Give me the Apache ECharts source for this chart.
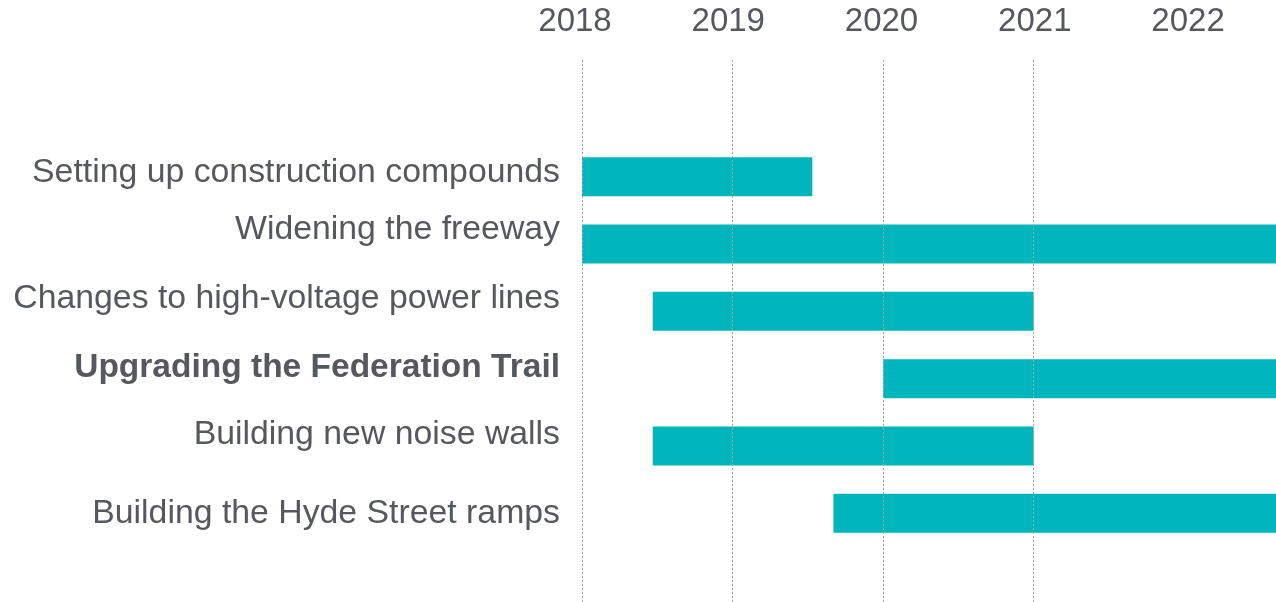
<!DOCTYPE html>
<html>
<head>
<meta charset="utf-8">
<script src="https://cdn.jsdelivr.net/npm/echarts@6/dist/echarts.min.js"></script>
<style>
    html, body { margin: 0; padding: 0; background: #ffffff; }
    #chart { width: 1276px; height: 602px; }
</style>
</head>
<body>
<div id="chart"></div>
<script>
// 任务名称
const tasks = [
    'Setting up construction compounds',
    'Widening the freeway',
    'Changes to high-voltage power lines',
    'Upgrading the Federation Trail',
    'Building new noise walls',
    'Building the Hyde Street ramps'
];
// 开始 / 结束年份（小数年）
const starts = [2018.0, 2018.0, 2018.47, 2020.0, 2018.47, 2019.67];
const ends = [2019.53, 2022.61, 2021.0, 2022.61, 2021.0, 2022.61];
const highlighted = 'Upgrading the Federation Trail';
// 竖向虚线所在年份
const gridYears = [2018, 2019, 2020, 2021];

const xMin = 2018;
const xMax = 2022.61;
const textColor = '#55585d';
const barColor = '#00b6bc';
const fontFamily = "'Liberation Sans', Arial, sans-serif";
// 标签相对柱子的上下偏移（原图标签没有和柱子对齐）
const labelShift = [-4, -14, -13, -11, -11, 0];

const chart = echarts.init(document.getElementById('chart'));

const option = {
    animation: false,
    grid: [
        { left: 582, right: 0, top: 143, bottom: 55 },   // 柱子
        { left: 582, right: 0, top: 58, bottom: 0 },     // 虚线
        { left: 575, right: 0, top: 58, bottom: 0 }      // 年份标签
    ],
    xAxis: [
        { gridIndex: 0, type: 'value', min: xMin, max: xMax, interval: 1, show: false },
        { gridIndex: 1, type: 'value', min: xMin, max: xMax, interval: 1, show: false },
        {
            gridIndex: 2, type: 'value', position: 'top', min: xMin, max: 2022.574, interval: 1,
            axisLine: { show: false },
            axisTick: { show: false },
            splitLine: { show: false },
            axisLabel: {
                show: true,
                showMaxLabel: false,
                margin: 20,
                fontSize: 33,
                color: textColor,
                fontFamily: fontFamily,
                formatter: (v) => String(Math.round(v))
            }
        }
    ],
    yAxis: [
        {
            gridIndex: 0, type: 'category', data: tasks, inverse: true,
            axisLine: { show: false },
            axisTick: { show: false },
            splitLine: { show: false },
            axisLabel: { show: false }
        },
        { gridIndex: 1, type: 'value', min: 0, max: 1, show: false },
        { gridIndex: 2, type: 'value', min: 0, max: 1, show: false }
    ],
    series: [
        {
            name: 'base',
            type: 'bar',
            stack: 'gantt',
            xAxisIndex: 0, yAxisIndex: 0,
            barWidth: 39,
            itemStyle: { color: 'transparent' },
            silent: true,
            data: starts
        },
        {
            name: 'duration',
            type: 'bar',
            stack: 'gantt',
            xAxisIndex: 0, yAxisIndex: 0,
            barWidth: 39,
            itemStyle: { color: barColor },
            data: ends.map((e, i) => +(e - starts[i]).toFixed(4))
        },
        {
            // 左侧任务名称
            name: 'labels',
            type: 'scatter',
            xAxisIndex: 0, yAxisIndex: 0,
            symbolSize: 0,
            silent: true,
            clip: false,
            itemStyle: { opacity: 1 },
            label: {
                show: true,
                position: 'left',
                distance: 22,
                fontSize: 33.8,
                color: textColor,
                fontFamily: fontFamily,
                formatter: (p) => p.name === highlighted ? '{b|' + p.name + '}' : p.name,
                rich: {
                    b: { fontSize: 33.5, fontWeight: 'bold', color: textColor, fontFamily: fontFamily }
                }
            },
            data: tasks.map((t, i) => ({
                name: t,
                value: [xMin, t],
                label: { offset: [0, labelShift[i]] }
            }))
        },
        {
            name: 'gridlines',
            type: 'scatter',
            xAxisIndex: 1, yAxisIndex: 1,
            data: [],
            z: 10,
            markLine: {
                silent: true,
                symbol: 'none',
                label: { show: false },
                lineStyle: { color: '#a6a6a6', width: 1, type: [2, 2] },
                data: gridYears.map(y => ({ xAxis: y }))
            }
        }
    ]
};

chart.setOption(option);
</script>
</body>
</html>
